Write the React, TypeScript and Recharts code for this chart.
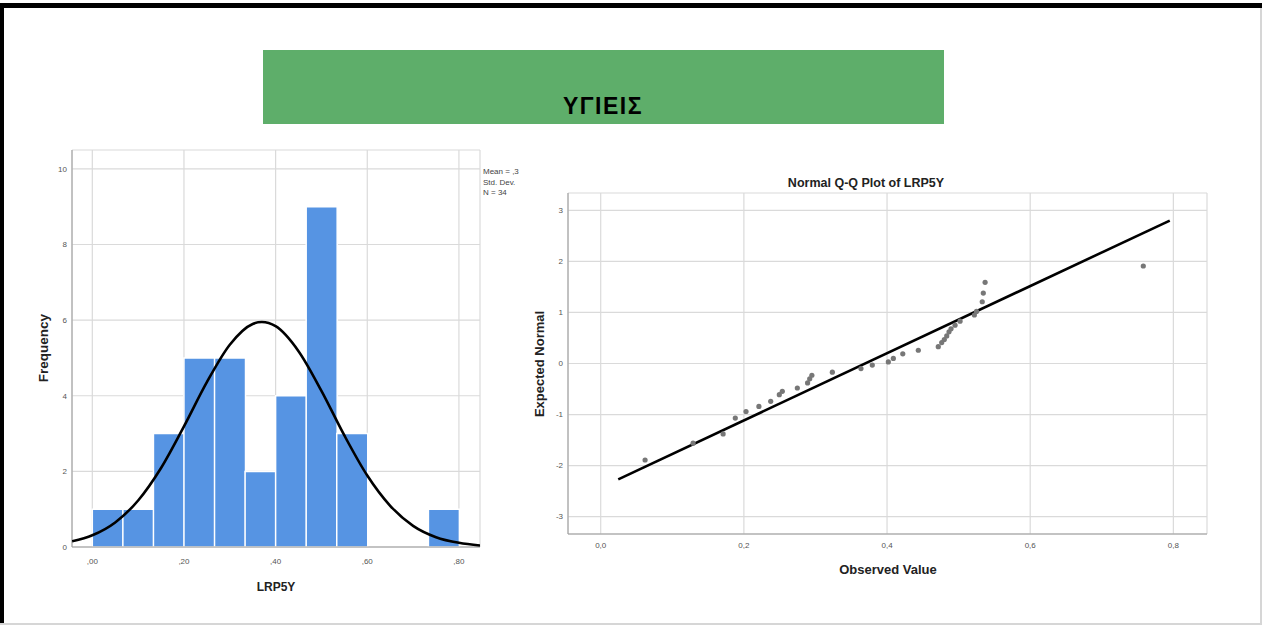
import React from "react";
import {
  ComposedChart,
  Bar,
  Line,
  Scatter,
  XAxis,
  YAxis,
  CartesianGrid,
} from "recharts";

// histogram of LRP5Y (bin centres / counts)
const binCenters = [0.0333, 0.1, 0.1667, 0.2333, 0.3, 0.3667, 0.4333, 0.5, 0.5667, 0.6333, 0.7, 0.7667];
const binCounts = [1, 1, 3, 5, 5, 2, 4, 9, 3, 0, 0, 1];

// normal curve
const curveX = [-0.044, 0, 0.05, 0.1, 0.15, 0.2, 0.25, 0.3, 0.35, 0.37, 0.4, 0.45, 0.5, 0.55, 0.6, 0.65, 0.7, 0.75, 0.8, 0.846];
const curveY = [0.15, 0.31, 0.65, 1.23, 2.09, 3.19, 4.36, 5.35, 5.9, 5.95, 5.84, 5.18, 4.13, 2.95, 1.89, 1.09, 0.56, 0.26, 0.11, 0.04];

const histXTicks = [0, 0.2, 0.4, 0.6, 0.8];
const histYTicks = [0, 2, 4, 6, 8, 10];

// Q-Q plot points
const obsValue = [
  0.062, 0.129, 0.171, 0.188, 0.203, 0.221, 0.2375, 0.2495, 0.2537, 0.2747,
  0.289, 0.292, 0.295, 0.3236, 0.3636, 0.3794, 0.4018, 0.4088, 0.422, 0.4437,
  0.4716, 0.4764, 0.48, 0.4834, 0.4866, 0.4894, 0.495, 0.502, 0.522, 0.525,
  0.533, 0.5345, 0.537, 0.758,
];
const expNormal = [
  -1.89, -1.56, -1.38, -1.07, -0.94, -0.84, -0.74, -0.61, -0.545, -0.48,
  -0.38, -0.3, -0.23, -0.17, -0.1, -0.03, 0.03, 0.1, 0.19, 0.26,
  0.33, 0.41, 0.47, 0.54, 0.62, 0.68, 0.75, 0.83, 0.95, 1.02,
  1.21, 1.38, 1.59, 1.91,
];
const fitX = [0.0245, 0.795];
const fitY = [-2.27, 2.8];

const qqXTicks = [0, 0.2, 0.4, 0.6, 0.8];
const qqYTicks = [-3, -2, -1, 0, 1, 2, 3];

const FONT = "'Liberation Sans', Arial, sans-serif";
const GRID = "#dadada";
const AXIS = "#9a9a9a";

const HIST_X_DOMAIN: [number, number] = [-0.0443, 0.846];
const HIST_Y_DOMAIN: [number, number] = [0, 10.5];

const histData = binCenters.map((x, i) => ({ x, count: binCounts[i] }));
const curveData = curveX.map((x, i) => ({ x, dens: curveY[i] }));
const qqData = obsValue.map((x, i) => ({ x, y: expNormal[i] }));
const fitData = fitX.map((x, i) => ({ x, y: fitY[i] }));

const tickStyle = { fontSize: 8, fill: "#555", fontFamily: FONT };

function Dot(props: any) {
  const { cx, cy } = props;
  if (cx == null || cy == null) return null;
  return <circle cx={cx} cy={cy} r={2.6} fill="#777" />;
}

function abs(left: number, top: number, extra: React.CSSProperties = {}): React.CSSProperties {
  return { position: "absolute", left, top, fontFamily: FONT, whiteSpace: "nowrap", ...extra };
}

export default function App() {
  return (
    <div
      style={{
        position: "absolute",
        left: 0,
        top: 0,
        width: 1262,
        height: 625,
        background: "#fff",
        overflow: "hidden",
      }}
    >
      {/* frame */}
      <div style={{ position: "absolute", left: 0, top: 3, width: 1262, height: 5, background: "#000" }} />
      <div style={{ position: "absolute", left: 0, top: 3, width: 4, height: 622, background: "#000" }} />
      <div style={{ position: "absolute", left: 1260, top: 8, width: 2, height: 617, background: "#d6d6d6" }} />
      <div style={{ position: "absolute", left: 0, top: 623, width: 1262, height: 2, background: "#d6d6d6" }} />

      {/* green banner */}
      <div style={{ position: "absolute", left: 263, top: 50, width: 681, height: 74, background: "#5eae6a" }} />
      <div
        style={abs(603, 106, {
          transform: "translate(-50%, -50%)",
          fontSize: 23,
          fontWeight: "bold",
          letterSpacing: 1.5,
          color: "#000",
        })}
      >
        ΥΓΙΕΙΣ
      </div>

      {/* histogram: bars */}
      <div style={{ position: "absolute", left: 0, top: 140 }}>
        <ComposedChart
          width={520}
          height={470}
          data={histData}
          margin={{ top: 10, right: 40, bottom: 43, left: 0 }}
          barCategoryGap={0}
          barGap={0}
        >
          <CartesianGrid stroke={GRID} strokeWidth={1.2} />
          <XAxis
            dataKey="x"
            type="number"
            domain={HIST_X_DOMAIN}
            allowDataOverflow
            ticks={histXTicks}
            tickFormatter={(v: number) => v.toFixed(2).replace("0.", ",")}
            tick={tickStyle}
            tickLine={false}
            tickMargin={5}
            axisLine={{ stroke: AXIS }}
            height={20}
          />
          <YAxis
            type="number"
            domain={HIST_Y_DOMAIN}
            allowDataOverflow
            ticks={histYTicks}
            tick={tickStyle}
            tickLine={false}
            tickSize={3}
            tickMargin={2}
            axisLine={{ stroke: AXIS }}
            width={72}
          />
          <Bar dataKey="count" fill="#5694e3" stroke="#fff" strokeWidth={1.5} isAnimationActive={false} />
        </ComposedChart>
      </div>
      {/* histogram: normal curve on the same scales */}
      <div style={{ position: "absolute", left: 0, top: 140 }}>
        <ComposedChart
          width={520}
          height={470}
          data={curveData}
          margin={{ top: 10, right: 40, bottom: 63, left: 72 }}
        >
          <XAxis dataKey="x" type="number" domain={HIST_X_DOMAIN} allowDataOverflow hide />
          <YAxis type="number" domain={HIST_Y_DOMAIN} allowDataOverflow hide />
          <Line
            dataKey="dens"
            type="monotone"
            stroke="#000"
            strokeWidth={2.6}
            dot={false}
            isAnimationActive={false}
          />
        </ComposedChart>
      </div>
      <div
        style={abs(43, 348, {
          transform: "translate(-50%, -50%) rotate(-90deg)",
          fontSize: 13.5,
          fontWeight: "bold",
          color: "#222",
        })}
      >
        Frequency
      </div>
      <div style={abs(276, 587, { transform: "translate(-50%, -50%)", fontSize: 12, fontWeight: "bold", color: "#222" })}>
        LRP5Y
      </div>
      <div style={abs(483, 167, { fontSize: 8, lineHeight: "10.5px", color: "#444" })}>
        <div>Mean = ,3</div>
        <div>Std. Dev.</div>
        <div>N = 34</div>
      </div>

      {/* normal Q-Q plot */}
      <div style={abs(866, 183, { transform: "translate(-50%, -50%)", fontSize: 12.5, fontWeight: "bold", color: "#222" })}>
        Normal Q-Q Plot of LRP5Y
      </div>
      <div style={{ position: "absolute", left: 510, top: 170 }}>
        <ComposedChart width={720} height={430} margin={{ top: 23, right: 23, bottom: 46, left: 0 }}>
          <CartesianGrid stroke={GRID} strokeWidth={1.2} />
          <XAxis
            dataKey="x"
            type="number"
            domain={[-0.0457, 0.847]}
            allowDataOverflow
            ticks={qqXTicks}
            tickFormatter={(v: number) => v.toFixed(1).replace(".", ",")}
            tick={tickStyle}
            tickLine={false}
            tickMargin={2}
            axisLine={{ stroke: AXIS }}
            height={20}
          />
          <YAxis
            dataKey="y"
            type="number"
            domain={[-3.34, 3.34]}
            allowDataOverflow
            ticks={qqYTicks}
            tick={tickStyle}
            tickLine={false}
            tickSize={3}
            tickMargin={2}
            axisLine={{ stroke: AXIS }}
            width={58}
          />
          <Scatter data={qqData} shape={<Dot />} isAnimationActive={false} />
          <Line
            data={fitData}
            dataKey="y"
            type="linear"
            stroke="#000"
            strokeWidth={2.6}
            dot={false}
            isAnimationActive={false}
          />
        </ComposedChart>
      </div>
      <div
        style={abs(539, 364, {
          transform: "translate(-50%, -50%) rotate(-90deg)",
          fontSize: 13,
          fontWeight: "bold",
          color: "#222",
        })}
      >
        Expected Normal
      </div>
      <div style={abs(888, 569, { transform: "translate(-50%, -50%)", fontSize: 13, fontWeight: "bold", color: "#222" })}>
        Observed Value
      </div>
    </div>
  );
}
